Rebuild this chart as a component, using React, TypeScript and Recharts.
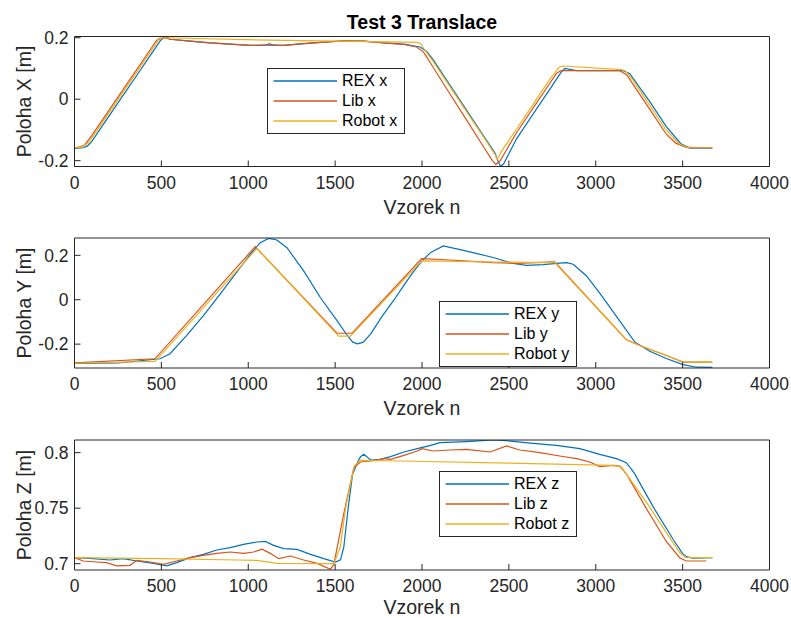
import { LineChart, Line, XAxis, YAxis, Legend } from 'recharts';

const FONT = '"Liberation Sans", Arial, Helvetica, sans-serif';
const AXIS = '#262626';
const BLUE = '#0072BD';
const RED = '#D95319';
const YELLOW = '#EDB120';

const xTicks = [0, 500, 1000, 1500, 2000, 2500, 3000, 3500, 4000];
const xTickLabels = ['0', '500', '1000', '1500', '2000', '2500', '3000', '3500', '4000'];

const posTicks = [-0.2, 0, 0.2];
const posTickLabels = ['-0.2', '0', '0.2'];
const zTicks = [0.7, 0.75, 0.8];
const zTickLabels = ['0.7', '0.75', '0.8'];

// Poloha X
const rexXn = [0, 50, 75, 100, 165, 265, 358, 454, 496, 521, 550, 665, 781, 896, 1012, 1127, 1204, 1319, 1435, 1550, 1665, 1781, 1896, 1989, 2027, 2065, 2161, 2257, 2353, 2420, 2440, 2452, 2470, 2544, 2640, 2736, 2800, 2822, 2889, 3157, 3196, 3311, 3406, 3490, 3540, 3671];
const rexXv = [-0.16, -0.158, -0.152, -0.137, -0.083, 0.0, 0.077, 0.157, 0.192, 0.204, 0.195, 0.189, 0.183, 0.179, 0.175, 0.177, 0.175, 0.181, 0.186, 0.19, 0.189, 0.183, 0.179, 0.17, 0.155, 0.128, 0.046, -0.036, -0.118, -0.175, -0.205, -0.218, -0.21, -0.129, -0.048, 0.033, 0.087, 0.1, 0.093, 0.093, 0.083, -0.008, -0.089, -0.145, -0.159, -0.159];
const libXn = [0, 31, 60, 100, 165, 242, 358, 435, 470, 490, 520, 550, 665, 781, 896, 1012, 1100, 1123, 1140, 1204, 1319, 1435, 1550, 1665, 1781, 1896, 1969, 2008, 2065, 2161, 2257, 2353, 2405, 2425, 2448, 2544, 2640, 2674, 2736, 2774, 2800, 3138, 3180, 3215, 3311, 3406, 3460, 3521, 3671];
const libXv = [-0.158, -0.155, -0.148, -0.118, -0.064, 0.0, 0.096, 0.16, 0.19, 0.198, 0.199, 0.195, 0.189, 0.183, 0.179, 0.175, 0.176, 0.181, 0.176, 0.175, 0.181, 0.186, 0.19, 0.189, 0.183, 0.178, 0.17, 0.154, 0.103, 0.017, -0.068, -0.154, -0.2, -0.212, -0.202, -0.109, -0.028, 0.0, 0.052, 0.084, 0.093, 0.093, 0.078, 0.048, -0.033, -0.114, -0.143, -0.157, -0.158];
const robXn = [0, 40, 80, 165, 252, 358, 435, 480, 495, 520, 1127, 1973, 1995, 2010, 2065, 2161, 2257, 2353, 2420, 2433, 2458, 2544, 2640, 2736, 2790, 2812, 3148, 3170, 3215, 3311, 3406, 3480, 3531, 3671];
const robXv = [-0.158, -0.155, -0.143, -0.072, 0.0, 0.088, 0.152, 0.19, 0.198, 0.2, 0.192, 0.185, 0.18, 0.165, 0.122, 0.041, -0.041, -0.122, -0.18, -0.196, -0.169, -0.097, -0.016, 0.065, 0.105, 0.108, 0.096, 0.092, 0.061, -0.02, -0.101, -0.145, -0.158, -0.158];

// Poloha Y
const rexYn = [0, 250, 492, 550, 646, 742, 838, 935, 1011, 1069, 1117, 1165, 1223, 1319, 1415, 1511, 1569, 1600, 1627, 1660, 1704, 1770, 1840, 1900, 1950, 2000, 2050, 2123, 2257, 2410, 2525, 2602, 2697, 2774, 2832, 2870, 2947, 3023, 3119, 3224, 3311, 3406, 3502, 3580, 3671];
const rexYv = [-0.287, -0.285, -0.266, -0.243, -0.161, -0.072, 0.025, 0.125, 0.204, 0.257, 0.276, 0.269, 0.234, 0.13, 0.01, -0.094, -0.16, -0.19, -0.199, -0.192, -0.155, -0.075, 0.0, 0.07, 0.125, 0.175, 0.213, 0.242, 0.219, 0.19, 0.163, 0.155, 0.158, 0.164, 0.167, 0.16, 0.107, 0.03, -0.075, -0.19, -0.232, -0.265, -0.292, -0.304, -0.305];
const libYn = [0, 463, 1040, 1511, 1598, 1998, 2161, 2410, 2544, 2764, 3176, 3253, 3406, 3502, 3671];
const libYv = [-0.284, -0.266, 0.239, -0.151, -0.151, 0.185, 0.179, 0.167, 0.164, 0.17, -0.18, -0.206, -0.251, -0.281, -0.281];
const robYn = [0, 463, 1050, 1521, 1588, 1998, 2400, 2764, 3176, 3253, 3406, 3502, 3671];
const robYv = [-0.286, -0.278, 0.231, -0.164, -0.164, 0.175, 0.17, 0.167, -0.18, -0.206, -0.251, -0.281, -0.281];

// Poloha Z
const rexZn = [0, 88, 204, 281, 358, 454, 531, 588, 665, 742, 819, 896, 973, 1050, 1098, 1146, 1204, 1281, 1358, 1435, 1502, 1531, 1550, 1575, 1600, 1625, 1646, 1665, 1704, 1761, 1819, 1896, 1973, 2050, 2103, 2257, 2410, 2487, 2640, 2774, 2908, 3023, 3119, 3176, 3220, 3335, 3445, 3500, 3521, 3560, 3671];
const rexZv = [0.7054, 0.7048, 0.7033, 0.7045, 0.7024, 0.7003, 0.698, 0.7009, 0.7054, 0.7084, 0.7123, 0.7144, 0.7174, 0.7195, 0.7201, 0.7165, 0.7135, 0.7129, 0.7084, 0.7045, 0.7015, 0.7035, 0.715, 0.75, 0.78, 0.79, 0.7964, 0.7985, 0.7934, 0.794, 0.7964, 0.8006, 0.8036, 0.8066, 0.809, 0.81, 0.8114, 0.8108, 0.8084, 0.8066, 0.8036, 0.7985, 0.7946, 0.791, 0.782, 0.75, 0.722, 0.709, 0.7063, 0.705, 0.7054];
const libZn = [0, 50, 127, 185, 242, 319, 358, 435, 512, 588, 665, 742, 819, 896, 973, 1031, 1079, 1127, 1175, 1242, 1319, 1396, 1473, 1492, 1550, 1608, 1646, 1704, 1781, 1819, 1896, 1973, 2000, 2065, 2161, 2257, 2391, 2487, 2563, 2678, 2793, 2889, 2966, 3023, 3100, 3138, 3180, 3290, 3406, 3483, 3521, 3636];
const libZv = [0.7054, 0.7024, 0.7015, 0.701, 0.698, 0.6985, 0.703, 0.7015, 0.6994, 0.7024, 0.7054, 0.7075, 0.7093, 0.7105, 0.7093, 0.7105, 0.713, 0.7093, 0.7045, 0.7069, 0.7033, 0.7003, 0.695, 0.699, 0.745, 0.7865, 0.7916, 0.7925, 0.7946, 0.794, 0.7976, 0.8015, 0.8036, 0.8015, 0.8024, 0.803, 0.8006, 0.806, 0.8024, 0.8, 0.797, 0.7946, 0.7916, 0.7874, 0.7886, 0.788, 0.78, 0.75, 0.72, 0.7054, 0.7024, 0.7024];
const robZn = [0, 500, 935, 1050, 1165, 1492, 1530, 1560, 1610, 1646, 1874, 2500, 3100, 3148, 3180, 3315, 3406, 3483, 3521, 3671];
const robZv = [0.7054, 0.7045, 0.7033, 0.703, 0.7003, 0.7, 0.715, 0.75, 0.788, 0.793, 0.7925, 0.7905, 0.7886, 0.787, 0.78, 0.75, 0.728, 0.71, 0.7054, 0.7054];

const pts = (n: number[], v: number[]) => n.map((k, i) => ({ n: k, v: v[i] }));

const PLOT_H = 130;

function Title({ viewBox, text }: any) {
  const { x, y, width, height } = viewBox;
  return (
    <text x={x + width / 2} y={y + height - 7.5} textAnchor="middle" fontSize={19.5} fontWeight="bold" fontFamily={FONT} fill="#000">
      {text}
    </text>
  );
}

function XTitle({ viewBox, text, gap }: any) {
  const { x, y, width } = viewBox;
  return (
    <text x={x + width / 2} y={y + gap} dy="0.355em" textAnchor="middle" fontSize={19.5} fontFamily={FONT} fill={AXIS}>
      {text}
    </text>
  );
}

function YTitle({ viewBox, text }: any) {
  const { x, y, height } = viewBox;
  const cx = x + 24;
  const cy = y + height / 2;
  return (
    <text x={cx} y={cy} dy="0.355em" transform={`rotate(-90 ${cx} ${cy})`} textAnchor="middle" fontSize={19.5} fontFamily={FONT} fill={AXIS}>
      {text}
    </text>
  );
}

function BoxLegend({ payload, order }: any) {
  const items = [...(payload || [])].sort((a: any, b: any) => order.indexOf(a.value) - order.indexOf(b.value));
  return (
    <div
      style={{
        position: 'relative',
        width: 138,
        height: 66,
        boxSizing: 'border-box',
        border: `1px solid ${AXIS}`,
        background: '#fff',
        fontFamily: FONT,
        fontSize: 16,
        color: '#000',
      }}
    >
      {items.map((e: any, i: number) => (
        <div
          key={i}
          style={{ position: 'absolute', left: 0, top: 2.4 + 20 * i, height: 20, display: 'flex', alignItems: 'center', whiteSpace: 'nowrap' }}
        >
          <svg width={74} height={20} style={{ display: 'block' }}>
            <line x1={5.6} x2={69} y1={10} y2={10} stroke={e.color} strokeWidth={1.3} />
          </svg>
          <span style={{ lineHeight: '20px' }}>{e.value}</span>
        </div>
      ))}
    </div>
  );
}

interface Series {
  name: string;
  color: string;
  data: { n: number; v: number }[];
}

interface PanelProps {
  top: number;
  topGap: number;
  bottomH: number;
  xTitleGap: number;
  title?: string;
  yLabel: string;
  yDomain: [number, number];
  yTicks: number[];
  yTickLabels: string[];
  series: Series[];
  legendPos: [number, number];
}

function Panel({ top, topGap, bottomH, xTitleGap, title, yLabel, yDomain, yTicks, yTickLabels, series, legendPos }: PanelProps) {
  const h = topGap + PLOT_H + bottomH;
  const tickStyle = { fill: AXIS, fontSize: 17.5, fontFamily: FONT };
  const order = series.map((s) => s.name);
  return (
    <div style={{ position: 'absolute', left: 0, top }}>
      <LineChart width={791} height={h} margin={{ top: 0, right: 20.5, bottom: 0, left: 0 }}>
        <XAxis
          dataKey="n"
          type="number"
          domain={[0, 4000]}
          ticks={xTicks}
          interval={0}
          allowDataOverflow
          tickFormatter={(t: number) => xTickLabels[xTicks.indexOf(t)]}
          height={bottomH}
          tickSize={-6}
          tickMargin={16}
          tick={tickStyle}
          axisLine={{ stroke: AXIS }}
          tickLine={{ stroke: AXIS }}
          label={<XTitle text="Vzorek n" gap={xTitleGap} />}
        />
        <XAxis
          xAxisId="top"
          orientation="top"
          dataKey="n"
          type="number"
          domain={[0, 4000]}
          ticks={xTicks}
          interval={0}
          allowDataOverflow
          height={topGap}
          tickSize={-6}
          tick={false}
          axisLine={{ stroke: AXIS }}
          tickLine={{ stroke: AXIS }}
          label={title ? <Title text={title} /> : undefined}
        />
        <YAxis
          type="number"
          domain={yDomain}
          ticks={yTicks}
          interval={0}
          allowDataOverflow
          tickFormatter={(t: number) => yTickLabels[yTicks.indexOf(t)]}
          width={74.5}
          tickSize={-6}
          tickMargin={12}
          tick={tickStyle}
          axisLine={{ stroke: AXIS }}
          tickLine={{ stroke: AXIS }}
          label={<YTitle text={yLabel} />}
        />
        <YAxis
          yAxisId="r"
          orientation="right"
          type="number"
          domain={yDomain}
          ticks={yTicks}
          interval={0}
          allowDataOverflow
          width={1}
          tickSize={-6}
          tick={false}
          axisLine={{ stroke: AXIS }}
          tickLine={{ stroke: AXIS }}
        />
        <Legend
          layout="horizontal"
          verticalAlign="middle"
          align="center"
          itemSorter={null}
          wrapperStyle={{ left: legendPos[0], top: legendPos[1], width: 138, height: 66 }}
          content={(p: any) => <BoxLegend payload={p.payload} order={order} />}
        />
        {series.map((s) => (
          <Line
            key={s.name}
            data={s.data}
            dataKey="v"
            name={s.name}
            type="linear"
            stroke={s.color}
            strokeWidth={1.2}
            dot={false}
            activeDot={false}
            isAnimationActive={false}
          />
        ))}
      </LineChart>
    </div>
  );
}

export default function App() {
  return (
    <div style={{ position: 'absolute', left: 0, top: 0, width: 791, height: 618, background: '#fff', overflow: 'hidden' }}>
      <Panel
        top={0}
        topGap={36.5}
        bottomH={55}
        xTitleGap={41}
        title="Test 3 Translace"
        yLabel="Poloha X [m]"
        yDomain={[-0.219, 0.204]}
        yTicks={posTicks}
        yTickLabels={posTickLabels}
        legendPos={[267, 68]}
        series={[
          { name: 'REX x', color: BLUE, data: pts(rexXn, rexXv) },
          { name: 'Lib x', color: RED, data: pts(libXn, libXv) },
          { name: 'Robot x', color: YELLOW, data: pts(robXn, robXv) },
        ]}
      />
      <Panel
        top={221.5}
        topGap={16}
        bottomH={55}
        xTitleGap={40}
        yLabel="Poloha Y [m]"
        yDomain={[-0.3075, 0.278]}
        yTicks={posTicks}
        yTickLabels={posTickLabels}
        legendPos={[439, 79]}
        series={[
          { name: 'REX y', color: BLUE, data: pts(rexYn, rexYv) },
          { name: 'Lib y', color: RED, data: pts(libYn, libYv) },
          { name: 'Robot y', color: YELLOW, data: pts(robYn, robYv) },
        ]}
      />
      <Panel
        top={422.5}
        topGap={17}
        bottomH={48.5}
        xTitleGap={37}
        yLabel="Poloha Z [m]"
        yDomain={[0.6943, 0.8114]}
        yTicks={zTicks}
        yTickLabels={zTickLabels}
        legendPos={[439, 48.5]}
        series={[
          { name: 'REX z', color: BLUE, data: pts(rexZn, rexZv) },
          { name: 'Lib z', color: RED, data: pts(libZn, libZv) },
          { name: 'Robot z', color: YELLOW, data: pts(robZn, robZv) },
        ]}
      />
    </div>
  );
}
